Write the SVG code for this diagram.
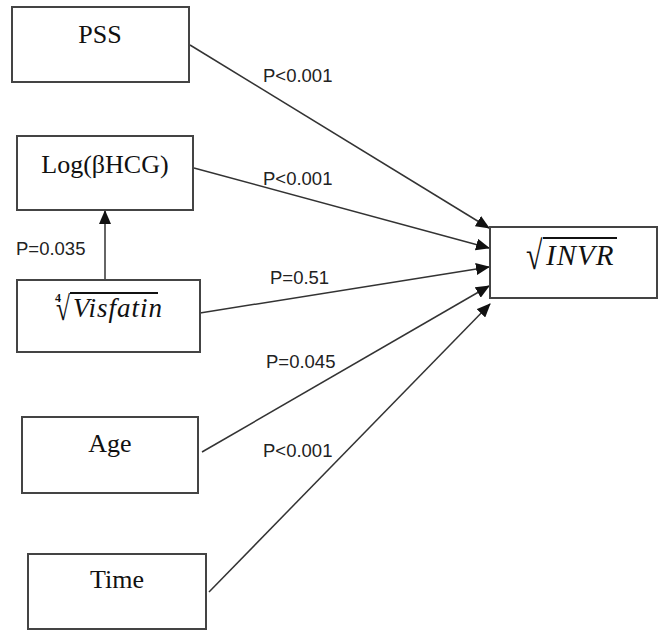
<svg xmlns="http://www.w3.org/2000/svg" width="659" height="631" viewBox="0 0 659 631">
<style>
.box{fill:#fff;stroke:#444;stroke-width:2}
.nt{font-family:"Liberation Serif","Times New Roman",serif;font-size:26px;fill:#111;text-anchor:middle}
.it{font-family:"Liberation Serif","Times New Roman",serif;font-style:italic;fill:#111}
.rad{font-family:"Liberation Serif","Times New Roman",serif;fill:#111}
.lbl{font-family:"Liberation Sans",Arial,sans-serif;font-size:18.5px;fill:#222}
.edge{stroke:#333;stroke-width:1.5;fill:none;marker-end:url(#ah)}
</style>
<defs>
<marker id="ah" markerWidth="14" markerHeight="12" refX="13" refY="6" orient="auto" markerUnits="userSpaceOnUse">
<path d="M0,0 L14,6 L0,12 Z" fill="#111"/>
</marker>
</defs>
<rect width="659" height="631" fill="#fff"/>
<g id="connectors">
<line class="edge" x1="190" y1="45" x2="489" y2="228"/>
<line class="edge" x1="194" y1="168" x2="489" y2="248"/>
<line class="edge" x1="200" y1="313" x2="489" y2="267"/>
<line class="edge" x1="202" y1="452" x2="489" y2="286"/>
<line class="edge" x1="209" y1="592" x2="490" y2="304"/>
<line class="edge" x1="105" y1="280" x2="105" y2="211"/>
<text class="lbl" x="263" y="82">P&lt;0.001</text>
<text class="lbl" x="263" y="185">P&lt;0.001</text>
<text class="lbl" x="270" y="284">P=0.51</text>
<text class="lbl" x="266" y="368">P=0.045</text>
<text class="lbl" x="263" y="457">P&lt;0.001</text>
<text class="lbl" x="16" y="255">P=0.035</text>
</g>
<g id="pss">
<rect class="box" x="12" y="7" width="177" height="75"/>
<text class="nt" x="100" y="43">PSS</text>
</g>
<g id="loghcg">
<rect class="box" x="17" y="136" width="176" height="74"/>
<text class="nt" x="105" y="173">Log(βHCG)</text>
</g>
<g id="visfatin">
<rect class="box" x="17" y="280" width="183" height="72"/>
<text class="rad" transform="translate(56,320) scale(0.75,1)" font-size="34">√</text>
<text class="rad" x="55" y="302" font-size="12" font-weight="bold">4</text>
<line x1="70" y1="293" x2="158" y2="293" stroke="#111" stroke-width="2"/>
<text class="it" x="73" y="317" font-size="27" letter-spacing="1">Visfatin</text>
</g>
<g id="age">
<rect class="box" x="22" y="417" width="176" height="76"/>
<text class="nt" x="110" y="452">Age</text>
</g>
<g id="time">
<rect class="box" x="28" y="554" width="178" height="75"/>
<text class="nt" x="117" y="588">Time</text>
</g>
<g id="invr">
<rect class="box" x="490" y="227" width="167" height="71"/>
<text class="rad" transform="translate(526,269) scale(0.75,1)" font-size="40">√</text>
<line x1="543" y1="238" x2="617" y2="238" stroke="#111" stroke-width="2"/>
<text class="it" x="546" y="265" font-size="29" letter-spacing="1">INVR</text>
</g>
</svg>
